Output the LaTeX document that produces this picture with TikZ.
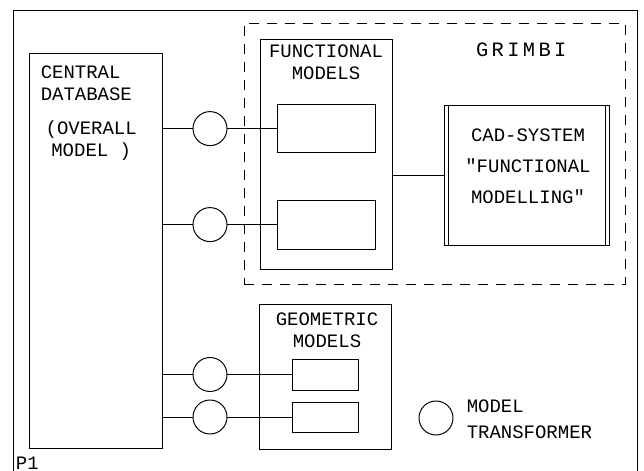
\documentclass[tikz,border=0pt]{standalone}
\usepackage{fontspec}
\setmonofont{Liberation Mono}
\usetikzlibrary{calc}

\begin{document}
\begin{tikzpicture}[line width=0.7pt, every node/.style={font=\ttfamily\fontsize{13.5}{15.6}\selectfont},
	box/.style={draw, rectangle, inner sep=0pt},
	trans/.style={draw, circle, minimum size=0.85cm, inner sep=0pt},
	grimbidash/.style={dash pattern=on 0.25cm off 0.2cm}]
	\useasboundingbox (0,0) rectangle (16.1,11.775);
	\draw (0.325,0) |- (15.925,11.525) -- (15.925,0);
	\node[anchor=west] (page) at (0.27,0.2) {P1};
	% database
	\node[box, minimum width=3.325cm, minimum height=9.875cm] (db) at (2.3875,5.5125) {};
	\node[anchor=west, align=left] (dbtitle) at (0.89,9.7) {CENTRAL\\DATABASE};
	\node[align=center] (dbnote) at (2.28,8.25) {(OVERALL\\MODEL )};
	% grimbi
	\node[box, grimbidash, minimum width=9.525cm, minimum height=6.525cm] (grimbi) at (10.8625,7.9375) {};
	\node[font=\ttfamily\fontsize{14.5}{16}\selectfont] (grimbititle) at (13.03,10.525) {G\,R\,I\,M\,B\,I};
	\node[box, minimum width=3.3cm, minimum height=5.75cm] (func) at (8.15,7.925) {};
	\node[align=center] (functitle) at (8.15,10.21) {FUNCTIONAL\\MODELS};
	\node[box, minimum width=2.45cm, minimum height=1.2cm] (fm1) at (8.15,8.56) {};
	\node[box, minimum width=2.45cm, minimum height=1.225cm] (fm2) at (8.15,6.16) {};
	\node[box, minimum width=4.125cm, minimum height=3.5cm] (cad) at (13.1625,7.4) {};
	\draw ([xshift=0.125cm]cad.north west) -- ([xshift=0.125cm]cad.south west);
	\draw ([xshift=-0.1cm]cad.north east) -- ([xshift=-0.1cm]cad.south east);
	\node[align=center, font=\ttfamily\fontsize{13.5}{22}\selectfont] (cadtext) at (13.2,7.62) {CAD-SYSTEM\\"FUNCTIONAL\\MODELLING"};
	% geometric
	\node[box, minimum width=3.3cm, minimum height=3.625cm] (geo) at (8.125,2.3625) {};
	\node[align=center] (geotitle) at (8.175,3.5125) {GEOMETRIC\\MODELS};
	\node[box, minimum width=1.65cm, minimum height=0.775cm] (gm1) at (8.125,2.4125) {};
	\node[box, minimum width=1.65cm, minimum height=0.75cm] (gm2) at (8.125,1.35) {};
	% transformers
	\node[trans] (c1) at (5.25,8.56) {};
	\node[trans] (c2) at (5.25,6.16) {};
	\node[trans] (c3) at (5.25,2.4125) {};
	\node[trans] (c4) at (5.25,1.35) {};
	\draw (db.east |- fm1) -- (c1) -- (fm1);
	\draw (db.east |- fm2) -- (c2) -- (fm2);
	\draw (db.east |- gm1) -- (c3) -- (gm1);
	\draw (db.east |- gm2) -- (c4) -- (gm2);
	\draw (cad.west -| func.east) -- (cad.west);
	% legend
	\node[trans] (legend) at (10.9,1.325) {};
	\node[anchor=west, align=left, font=\ttfamily\fontsize{13.5}{18.5}\selectfont] (legendtext) at (11.54,1.3) {MODEL\\TRANSFORMER};
\end{tikzpicture}
\end{document}
